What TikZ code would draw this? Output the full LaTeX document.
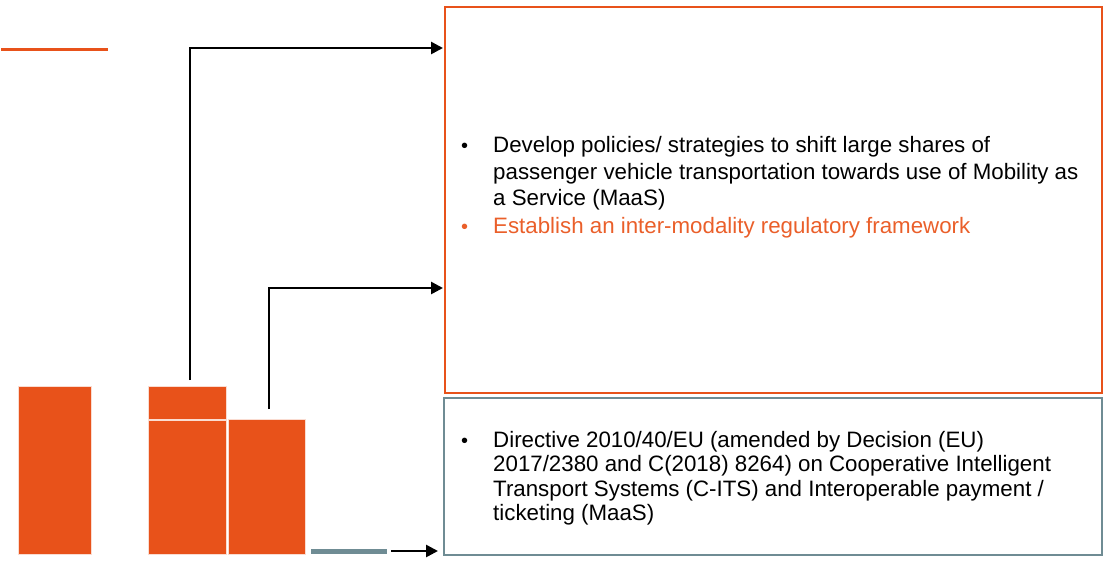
\documentclass[tikz,border=0pt]{standalone}
\usepackage{fontspec}
\setmainfont{Liberation Sans}
\usetikzlibrary{arrows.meta}
\definecolor{orng}{HTML}{E8521A}
\definecolor{orngtxt}{HTML}{EA5F2A}
\definecolor{slate}{HTML}{6F8C94}
\newcommand{\linesof}[1]{\begin{tabular}[t]{@{}l@{}}#1\end{tabular}}
\tikzset{
  block/.style={fill=orng,draw=white!80!orng,line width=0.8pt},
  conn/.style={line width=2.6pt,-{Triangle[length=12pt,width=12pt]}},
  txt/.style={anchor=base west,inner sep=0pt,font=\fontsize{22.3}{26.6}\selectfont},
  txtg/.style={txt,font=\fontsize{22.3}{24.4}\selectfont},
  bul/.style={anchor=base west,inner sep=0pt,font=\fontsize{20}{24}\selectfont},
}
\begin{document}
\begin{tikzpicture}[x=1pt,y=-1pt]
\useasboundingbox (0,0) rectangle (1109,560);
% top-left orange line
\draw[orng,line width=3pt] (1,49) -- (108,49);
% boxes
\node[draw=orng,line width=2pt,minimum width=657pt,minimum height=386pt,anchor=north west,inner sep=0pt] (obox) at (443.5,5.5) {};
\node[draw=slate,line width=2pt,minimum width=658pt,minimum height=157pt,anchor=north west,inner sep=0pt] (gbox) at (443,396.5) {};
% orange blocks
\path[block] (18,386) rectangle (91,554);
\node[block,minimum width=78pt,minimum height=33pt,anchor=north west,inner sep=0pt] (btop) at (148,385.5) {};
\node[block,minimum width=78pt,minimum height=134pt,anchor=north west,inner sep=0pt] (bbot) at (148,420) {};
\node[block,minimum width=77pt,minimum height=135pt,anchor=north west,inner sep=0pt] (cblk) at (228,419) {};
% connectors
\coordinate (s1) at (190,380);
\coordinate (e1) at (443,48);
\coordinate (s2) at (269,409);
\coordinate (e2) at (443,288);
\draw[conn] (s1) |- (e1);
\draw[conn] (s2) |- (e2);
\draw[slate,line width=5pt] (311,551) -- (387,551);
\coordinate (s3) at (391,551);
\coordinate (e3) at (438,551);
\draw[conn] (s3) -- (e3);
% texts
\node[bul] (b1) at (461,152.7) {•};
\node[txt] (t1) at (493,152.7) {\linesof{Develop policies/ strategies to shift large shares of\\passenger vehicle transportation towards use of Mobility as\\a Service (MaaS)}};
\node[bul,text=orngtxt] (b2) at (461,233) {•};
\node[txt,text=orngtxt] (t2) at (493,233) {Establish an inter-modality regulatory framework};
\node[bul] (b3) at (461,447.5) {•};
\node[txtg] (t3) at (493,447.5) {\linesof{Directive 2010/40/EU (amended by Decision (EU)\\2017/2380 and C(2018) 8264) on Cooperative Intelligent\\Transport Systems (C-ITS) and Interoperable payment /\\ticketing (MaaS)}};
\end{tikzpicture}
\end{document}
